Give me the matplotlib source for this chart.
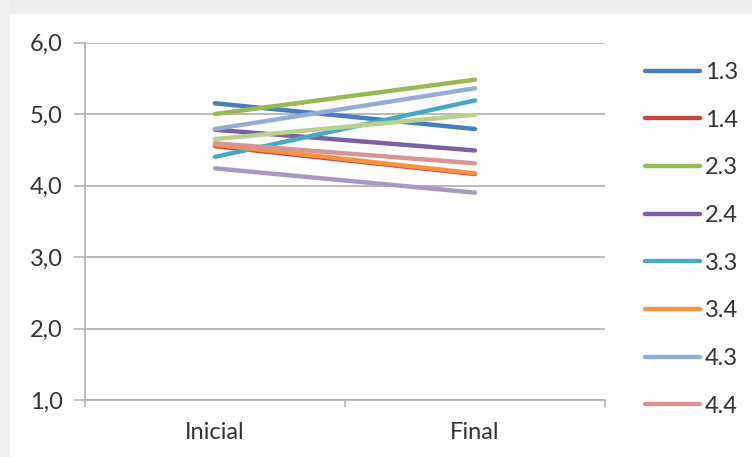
import matplotlib.pyplot as plt
from matplotlib.patches import Rectangle
from matplotlib.ticker import FixedLocator, FuncFormatter

plt.rcParams["font.family"] = ["Lato", "DejaVu Sans"]

stages = ["Inicial", "Final"]
groups = ["1.3", "1.4", "2.3", "2.4", "3.3", "3.4", "4.3", "4.4", "5.3", "5.4"]
inicial = [5.15, 4.55, 5.00, 4.78, 4.40, 4.57, 4.79, 4.59, 4.65, 4.24]
final = [4.79, 4.16, 5.48, 4.49, 5.19, 4.17, 5.36, 4.31, 4.99, 3.90]
colors = ["#4a7ebb", "#be4b48", "#98b954", "#7d60a0", "#46aac5",
          "#f69240", "#93acd8", "#d99592", "#b9d18f", "#a898c6"]
shown_in_legend = 8

W, H = 752, 457
fig = plt.figure(figsize=(W / 100, H / 100), dpi=100)
fig.patch.set_facecolor("white")

# grey frame around the chart area
fig.patches.append(Rectangle((0, 1 - 14 / H), 1, 14 / H, transform=fig.transFigure,
                             facecolor="#ededed", edgecolor="none", zorder=0))
fig.patches.append(Rectangle((0, 0), 10 / W, 1, transform=fig.transFigure,
                             facecolor="#f0f0f0", edgecolor="none", zorder=0))

ax = fig.add_axes([85 / W, 1 - 400 / H, 520 / W, 357.5 / H])
ax.set_facecolor("none")

x = list(range(len(stages)))
handles = []
for name, a, b, c in zip(groups, inicial, final, colors):
    line, = ax.plot(x, [a, b], color=c, lw=3.2, solid_capstyle="round", label=name)
    handles.append(line)

ax.set_xlim(-0.5, 1.5)
ax.set_ylim(1, 6)
ax.set_yticks([1, 2, 3, 4, 5, 6])
ax.yaxis.set_major_formatter(FuncFormatter(lambda v, p: f"{v:.1f}".replace(".", ",")))
ax.yaxis.grid(True, color="#b4b4b4", lw=1.3)
ax.set_axisbelow(True)

ax.set_xticks(x)
ax.set_xticklabels(stages)
ax.xaxis.set_minor_locator(FixedLocator([-0.5, 0.5, 1.5]))
ax.tick_params(axis="x", which="major", length=0, pad=16, labelsize=17, colors="#333333")
ax.tick_params(axis="x", which="minor", length=5, width=1.2, color="#b4b4b4")
ax.tick_params(axis="y", length=8, width=1.2, color="#b4b4b4", pad=8,
               labelsize=17, labelcolor="#333333")

for side in ["top", "right"]:
    ax.spines[side].set_visible(False)
ax.spines["left"].set_color("#b4b4b4")
ax.spines["left"].set_linewidth(1.3)
ax.spines["bottom"].set_color("#b4b4b4")
ax.spines["bottom"].set_linewidth(1.3)

fig.legend(handles=handles[:shown_in_legend], labels=groups[:shown_in_legend],
           loc="upper left", bbox_to_anchor=(645 / W, 1 - 62 / H), frameon=False,
           fontsize=17, handlelength=2.33, handletextpad=0.22, labelspacing=1.13,
           borderpad=0, borderaxespad=0, labelcolor="#333333")

fig.savefig("out.png", dpi=100)
